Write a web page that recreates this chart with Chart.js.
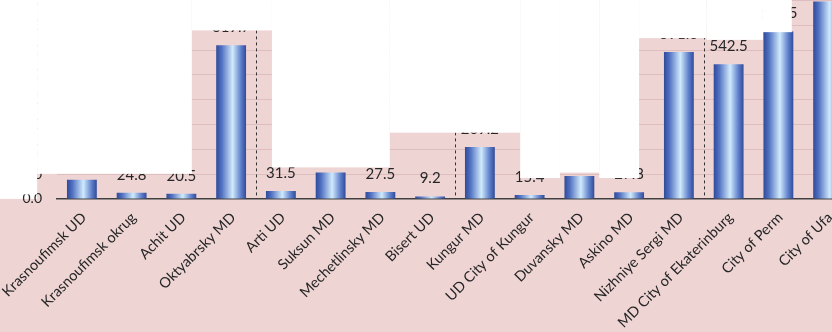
<!DOCTYPE html>
<html>
<head>
<meta charset="utf-8">
<script src="https://cdn.jsdelivr.net/npm/chart.js@4/dist/chart.umd.min.js"></script>
<style>
  html, body { margin: 0; padding: 0; background: #efd4d4; overflow: hidden; }
  #wrap { position: relative; width: 853px; height: 332px; }
</style>
</head>
<body>
<div id="wrap"><canvas id="MyChart1"></canvas></div>
<script>
var districts = ['Krasnoufimsk UD', 'Krasnoufimsk okrug', 'Achit UD', 'Oktyabrsky MD', 'Arti UD',
  'Suksun MD', 'Mechetlinsky MD', 'Bisert UD', 'Kungur MD', 'UD City of Kungur', 'Duvansky MD',
  'Askino MD', 'Nizhniye Sergi MD', 'MD City of Ekaterinburg', 'City of Perm', 'City of Ufa'];
var values = [77.3, 24.8, 20.5, 619.7, 31.5, 106.1, 27.5, 9.2, 209.2, 15.4, 92.3, 27.3, 591.6, 542.5, 674.5, 795.5];
var yTicks = [0, 100, 200, 300, 400, 500, 600, 700, 800];
// group separators (dashed) after these category indexes
var groupEnds = [3, 7, 12];

// white cover-up boxes in the source picture: [from index, to index, covered above value]
var covers = [
  [-3, -0.9, 18], [-0.9, 2.21, 101], [2.21, 3.82, 679], [3.82, 6.19, 127], [6.19, 8.81, 267],
  [8.81, 9.61, 84], [9.61, 10.4, 106], [10.4, 11.2, 84], [11.2, 12.56, 648], [12.56, 13.69, 641],
  [13.69, 14.27, 672]
];

var PINK = '#efd4d4';
var FONT = 'Lato, "Open Sans", sans-serif';
var VIEW_H = 332;

function barFill(c) {
  var xs = c.chart.scales.x;
  if (!xs || !xs.width) return '#5874c0';
  var cx = xs.getPixelForValue(c.dataIndex),
      half = xs.width / districts.length * 0.3;
  var g = c.chart.ctx.createLinearGradient(cx - half, 0, cx + half, 0);
  g.addColorStop(0, '#304a99');
  g.addColorStop(0.18, '#5070c1');
  g.addColorStop(0.55, '#d0eafc');
  g.addColorStop(0.82, '#6182cd');
  g.addColorStop(1, '#304a99');
  return g;
}

var paint = {
  id: 'paint',
  beforeDraw: function(chart) {
    var ctx = chart.ctx, a = chart.chartArea;
    ctx.save();
    ctx.fillStyle = PINK;
    ctx.fillRect(0, 0, chart.width, chart.height);
    ctx.fillStyle = '#fff';
    ctx.fillRect(0, 0, chart.scales.x.getPixelForValue(-0.9), a.bottom);
    ctx.restore();
  },
  afterDatasetsDraw: function(chart) {
    var ctx = chart.ctx, a = chart.chartArea, xs = chart.scales.x;
    ctx.save();
    // dashed group separators
    ctx.strokeStyle = '#333';
    ctx.lineWidth = 1;
    ctx.setLineDash([3, 3]);
    groupEnds.forEach(function(i) {
      var x = Math.round(xs.getPixelForValue(i + 0.5)) + 0.5;
      ctx.beginPath();
      ctx.moveTo(x, a.top);
      ctx.lineTo(x, a.bottom);
      ctx.stroke();
    });
    ctx.setLineDash([]);
    // value labels
    ctx.fillStyle = '#262626';
    ctx.font = '15px ' + FONT;
    ctx.textAlign = 'center';
    ctx.textBaseline = 'middle';
    chart.getDatasetMeta(0).data.forEach(function(bar, i) {
      ctx.fillText(values[i].toFixed(1), bar.x, bar.y - 18);
    });
    ctx.restore();
  },
  afterDraw: function(chart) {
    var ctx = chart.ctx, xs = chart.scales.x, ys = chart.scales.y;
    ctx.save();
    ctx.fillStyle = '#fff';
    covers.forEach(function(c) {
      var x0 = xs.getPixelForValue(c[0]), x1 = xs.getPixelForValue(c[1]);
      ctx.fillRect(x0, 0, x1 - x0, ys.getPixelForValue(c[2]));
    });
    ctx.restore();
  }
};

var chart = document.getElementById('MyChart1').getContext('2d');

var chartInstance = new Chart(chart, {
  type: 'bar',
  data: {
    labels: districts,
    datasets: [{
      data: values,
      backgroundColor: barFill,
      borderWidth: 0,
      barPercentage: 0.6,
      categoryPercentage: 1
    }]
  },
  options: {
    responsive: true,
    maintainAspectRatio: false,
    animation: false,
    layout: { padding: 0 },
    plugins: {
      legend: { display: false },
      tooltip: { enabled: false }
    },
    scales: {
      x: {
        afterFit: function(s) {
          s.height = 133.5;
          // let the rotated first label run off the left edge like the source
          s.paddingLeft = 0;
          s.paddingRight = 0;
        },
        grid: { display: false, drawTicks: false },
        border: { display: true, color: '#404040', width: 1.5 },
        ticks: {
          color: '#262626',
          font: { family: FONT, size: 14.5 },
          minRotation: 45,
          maxRotation: 45,
          autoSkip: false,
          labelOffset: 2,
          padding: 10
        }
      },
      y: {
        min: 0,
        max: yTicks[yTicks.length - 1],
        afterFit: function(s) { s.width = 57; },
        afterBuildTicks: function(s) { s.ticks = yTicks.map(function(v) { return { value: v }; }); },
        grid: { color: 'rgba(160, 110, 110, 0.22)', lineWidth: 1, drawTicks: false },
        border: { display: false },
        ticks: {
          color: '#262626',
          font: { family: FONT, size: 14 },
          padding: 15,
          callback: function(v) { return v.toFixed(1); }
        }
      }
    }
  },
  plugins: [paint]
});

// the picture is cropped so that the top of the plot sits at the window edge
var wrap = document.getElementById('wrap');
var topGap = chartInstance.chartArea.top;
wrap.style.marginTop = (-topGap) + 'px';
wrap.style.height = (VIEW_H + topGap) + 'px';
chartInstance.resize();
</script>
</body>
</html>
